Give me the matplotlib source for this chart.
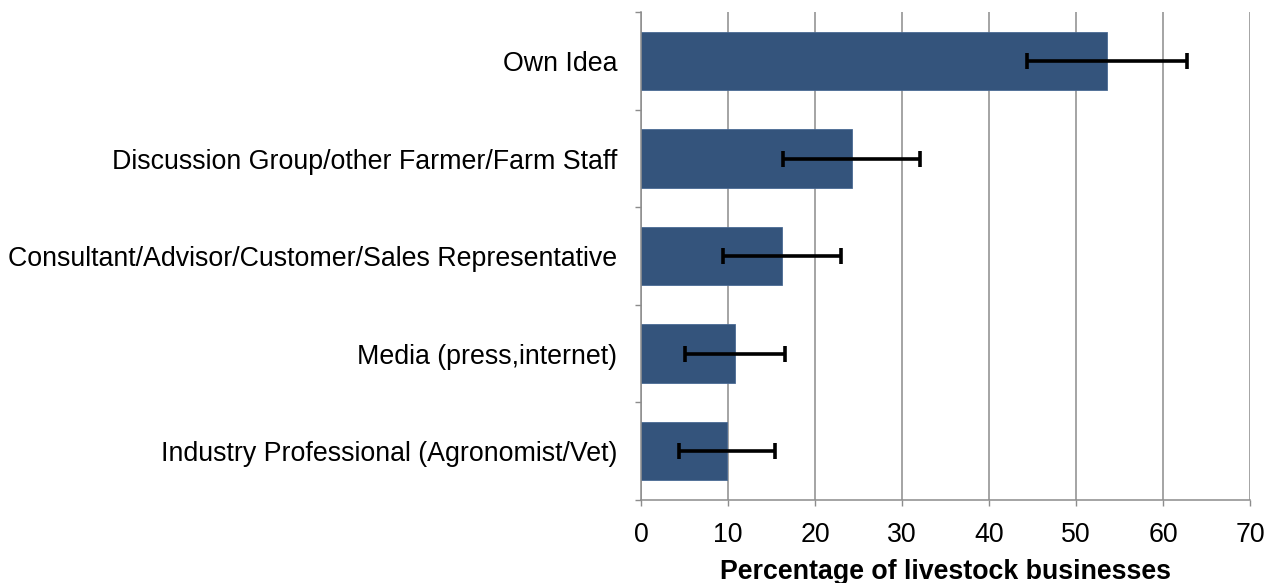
import matplotlib.pyplot as plt
import numpy as np

# 数据
labels = ['Own Idea',
          'Discussion Group/other Farmer/Farm Staff',
          'Consultant/Advisor/Customer/Sales Representative',
          'Media (press,internet)',
          'Industry Professional (Agronomist/Vet)']
values = [53.6, 24.2, 16.2, 10.8, 9.9]
errors = [9.2, 7.9, 6.8, 5.8, 5.5]
xticks = [0, 10, 20, 30, 40, 50, 60, 70]

plt.rcParams['font.family'] = ['Liberation Sans', 'DejaVu Sans']
grey = '#8c8c8c'

fig = plt.figure(figsize=(12.76, 5.83), dpi=100)
ax = fig.add_axes([0.5024, 0.1424, 0.4772, 0.8366])

y = np.arange(len(labels))
ax.barh(y, values, height=0.6, color='#34547c', edgecolor='#4a6a94', linewidth=0.6, zorder=2)
ax.errorbar(values, y, xerr=errors, fmt='none', ecolor='black', elinewidth=2.6,
            capsize=5.5, capthick=2.6, zorder=3)

ax.set_xlim(0, 70)
ax.set_ylim(len(labels) - 0.5, -0.5)
ax.set_xticks(xticks)
ax.xaxis.grid(True, color=grey, linewidth=1.1, zorder=0)
ax.set_axisbelow(True)

# y轴：标签在类别中心，刻度线在类别边界
ax.set_yticks(y)
ax.set_yticklabels(labels, fontsize=19.3)
ax.set_yticks(np.arange(-0.5, len(labels), 1), minor=True)
ax.tick_params(axis='y', which='major', length=0, pad=17)
ax.tick_params(axis='y', which='minor', length=4.5, color=grey, width=1)
ax.tick_params(axis='x', length=4.5, color=grey, width=1, labelsize=19.3, pad=11)

for s in ['top', 'right']:
    ax.spines[s].set_visible(False)
for s in ['left', 'bottom']:
    ax.spines[s].set_color(grey)
    ax.spines[s].set_linewidth(1.1)

ax.set_xlabel('Percentage of livestock businesses', fontsize=19.3, fontweight='bold', labelpad=8)

plt.savefig('out.png', dpi=100)
